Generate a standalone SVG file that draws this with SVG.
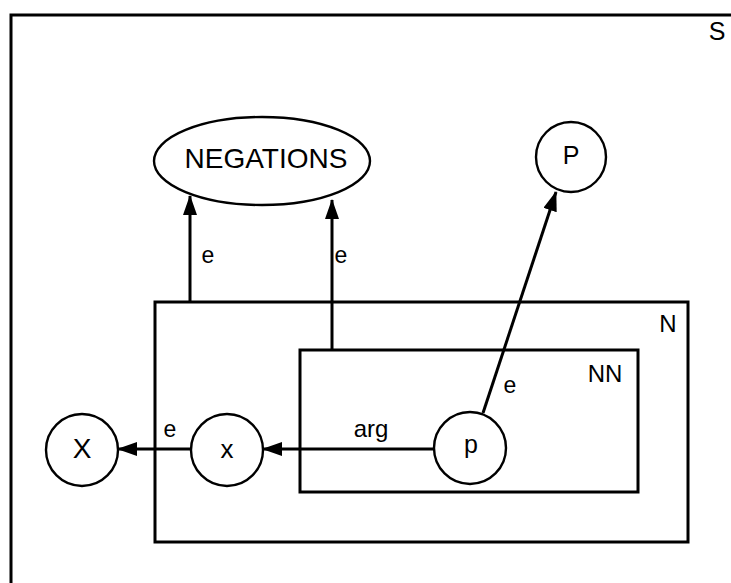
<svg xmlns="http://www.w3.org/2000/svg" width="731" height="583" viewBox="0 0 731 583">
<defs>
<style>
.box{fill:none;stroke:#000;stroke-width:3}
.node{fill:#fff;stroke:#000;stroke-width:2.4}
.edge{fill:none;stroke:#000;stroke-width:3}
.t{font-family:"Liberation Sans",Arial,sans-serif;fill:#000;text-anchor:middle}
</style>
<marker id="ahb" markerWidth="20" markerHeight="14" refX="19" refY="7" orient="auto" markerUnits="userSpaceOnUse" viewBox="0 0 20 14">
<path d="M0,0 L20,7 L0,14 z" fill="#000"/>
</marker>
</defs>
<rect width="731" height="583" fill="#fff"/>
<g id="S">
<rect class="box" x="11" y="15" width="740" height="600"/>
<text class="t" x="717" y="40" font-size="25">S</text>
</g>
<g id="N">
<rect class="box" x="155" y="302" width="533" height="240"/>
<text class="t" x="668" y="332" font-size="24">N</text>
</g>
<g id="NN">
<rect class="box" x="300" y="350" width="338" height="142"/>
<text class="t" x="605" y="382" font-size="24">NN</text>
</g>
<g id="connectors">
<line class="edge" x1="190" y1="302" x2="190" y2="196" marker-end="url(#ahb)"/>
<line class="edge" x1="332" y1="350" x2="332" y2="200" marker-end="url(#ahb)"/>
<line class="edge" x1="483" y1="413" x2="556" y2="192" marker-end="url(#ahb)"/>
<line class="edge" x1="434" y1="449" x2="263" y2="449" marker-end="url(#ahb)"/>
<line class="edge" x1="191" y1="449" x2="118" y2="449" marker-end="url(#ahb)"/>
<text class="t" x="208" y="263" font-size="23">e</text>
<text class="t" x="341" y="263" font-size="23">e</text>
<text class="t" x="510" y="393" font-size="23">e</text>
<text class="t" x="371" y="437" font-size="24">arg</text>
<text class="t" x="170" y="437" font-size="23">e</text>
</g>
<g id="NEGATIONS">
<ellipse class="node" cx="262" cy="161" rx="108" ry="44"/>
<text class="t" x="266" y="168" font-size="28">NEGATIONS</text>
</g>
<g id="P">
<circle class="node" cx="571" cy="157" r="35"/>
<text class="t" x="571" y="164" font-size="25">P</text>
</g>
<g id="Xnode">
<circle class="node" cx="82" cy="450" r="36"/>
<text class="t" x="82" y="458" font-size="28">X</text>
</g>
<g id="xnode">
<circle class="node" cx="227" cy="450" r="36"/>
<text class="t" x="227" y="458" font-size="26">x</text>
</g>
<g id="pnode">
<circle class="node" cx="470" cy="448" r="36"/>
<text class="t" x="471" y="453" font-size="25">p</text>
</g>
</svg>
